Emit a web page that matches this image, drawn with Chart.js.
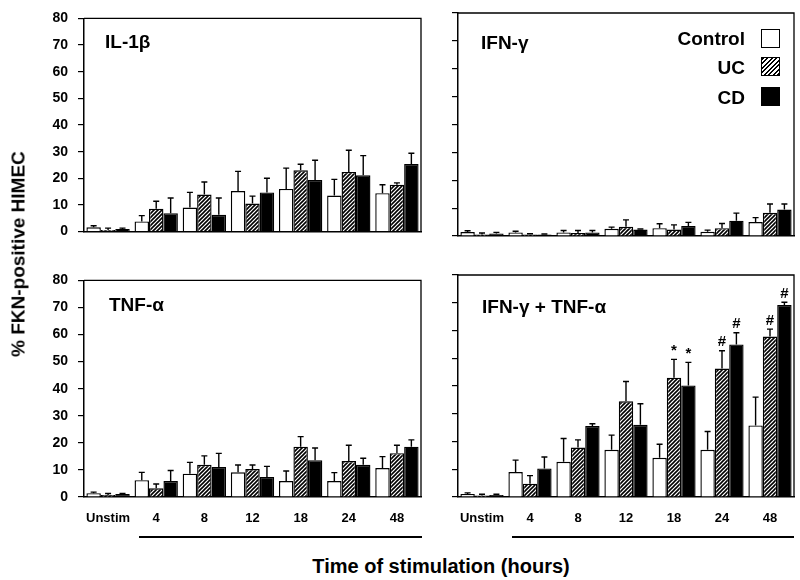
<!DOCTYPE html>
<html><head><meta charset="utf-8">
<script src="https://cdn.jsdelivr.net/npm/chart.js@4"></script>
<style>
html,body{margin:0;padding:0;background:#fff;}
#wrap{position:relative;width:800px;height:580px;overflow:hidden;font-family:Arial,"Liberation Sans",sans-serif;font-weight:bold;color:#000;}
canvas{position:absolute;}
.t{position:absolute;white-space:nowrap;line-height:1;}
.ttl{font-size:19px;}
.box{position:absolute;width:19px;height:19px;box-sizing:border-box;border:1.5px solid #000;}
.hl{position:absolute;height:1.5px;background:#000;}
</style></head>
<body><div id="wrap">
<canvas id="c0" width="430" height="250" style="left:0;top:0;width:430px;height:250px"></canvas>
<canvas id="c1" width="426" height="250" style="left:374px;top:0;width:426px;height:250px"></canvas>
<canvas id="c2" width="430" height="280" style="left:0;top:262px;width:430px;height:280px"></canvas>
<canvas id="c3" width="426" height="280" style="left:374px;top:262px;width:426px;height:280px"></canvas>

<div class="t ttl" style="left:105px;top:32px">IL-1β</div>
<div class="t ttl" style="left:481px;top:33px">IFN-γ</div>
<div class="t ttl" style="left:109px;top:295px">TNF-α</div>
<div class="t ttl" style="left:482px;top:297px">IFN-γ + TNF-α</div>

<div class="t ttl" style="right:55px;top:29px">Control</div>
<div class="t ttl" style="right:55px;top:58px">UC</div>
<div class="t ttl" style="right:55px;top:88px">CD</div>
<div class="box" style="left:761px;top:29px;background:#fff"></div>
<div class="box" style="left:761px;top:57px;background:repeating-linear-gradient(135deg,#000 0 1.6px,#fff 1.6px 3.2px)"></div>
<div class="box" style="left:761px;top:87px;background:#000"></div>

<div class="hl" style="left:139px;top:536px;width:283px"></div>
<div class="hl" style="left:512px;top:536px;width:282px"></div>

<div class="t" style="left:18px;top:254px;font-size:19px;transform:translate(-50%,-50%) rotate(-90deg)">% FKN-positive HIMEC</div>
<div class="t" style="left:441px;top:566px;font-size:20px;transform:translate(-50%,-50%)">Time of stimulation (hours)</div>
</div>
<script>
const categories = ['Unstim','4','8','12','18','24','48'];
const seriesNames = ['Control','UC','CD'];
const yTicksMin = 0, yTicksMax = 80, yTickStep = 10;

// IL-1beta
const il1bControl = [1.6, 3.8, 9.0, 15.2, 16.0, 13.5, 14.4];
const il1bControlSD = [0.6, 2.2, 5.7, 7.4, 7.8, 6.1, 3.2];
const il1bUC = [0.6, 8.6, 13.9, 10.5, 23.0, 22.4, 17.6];
const il1bUCSD = [0.7, 2.8, 4.7, 2.8, 2.3, 8.1, 0.7];
const il1bCD = [1.0, 6.9, 6.3, 14.7, 19.4, 21.1, 25.4];
const il1bCDSD = [0.3, 5.7, 6.3, 5.3, 7.4, 7.4, 4.0];

// IFN-gamma
const ifngControl = [1.4, 1.3, 1.3, 2.6, 2.8, 1.5, 5.0];
const ifngControlSD = [0.5, 0.4, 0.7, 0.6, 1.6, 0.6, 1.6];
const ifngUC = [0.5, 0.5, 1.1, 3.3, 2.3, 2.8, 8.3];
const ifngUCSD = [0.6, 0.3, 0.9, 2.5, 1.7, 1.7, 3.2];
const ifngCD = [0.9, 0.5, 1.3, 2.3, 3.6, 5.5, 9.5];
const ifngCDSD = [0.4, 0.2, 0.7, 0.2, 1.3, 2.7, 2.0];

// TNF-alpha
const tnfaControl = [1.4, 6.2, 8.6, 9.1, 5.9, 5.9, 10.7];
const tnfaControlSD = [0.4, 2.9, 4.2, 2.7, 3.7, 3.1, 4.2];
const tnfaUC = [0.7, 3.2, 11.9, 10.3, 18.6, 13.3, 16.2];
const tnfaUCSD = [0.6, 1.6, 3.3, 1.5, 3.7, 5.8, 2.9];
const tnfaCD = [1.1, 5.9, 11.1, 7.4, 13.6, 11.9, 18.6];
const tnfaCDSD = [0.2, 3.9, 5.0, 3.9, 4.5, 2.4, 2.5];

// IFN-gamma + TNF-alpha
const bothControl = [1.1, 9.0, 12.7, 17.0, 14.1, 17.0, 25.8];
const bothControlSD = [0.4, 4.3, 8.4, 5.3, 4.9, 6.6, 10.2];
const bothUC = [0.5, 4.8, 17.8, 34.5, 43.0, 46.3, 57.8];
const bothUCSD = [0.5, 2.9, 2.8, 7.1, 6.6, 6.4, 2.7];
const bothCD = [0.7, 10.3, 25.6, 26.0, 40.2, 55.0, 69.2];
const bothCDSD = [0.3, 4.1, 0.8, 7.6, 8.3, 4.2, 1.0];
const bothControlMarks = ['', '', '', '', '', '', ''];
const bothUCMarks = ['', '', '', '', '*', '#', '#'];
const bothCDMarks = ['', '', '', '', '*', '#', '#'];
const noMarks = ['', '', '', '', '', '', ''];

const FONT = 'Arial, "Liberation Sans", sans-serif';

function hatch(){
  const c = document.createElement('canvas');
  c.width = 4; c.height = 4;
  const g = c.getContext('2d');
  g.fillStyle = '#fff'; g.fillRect(0,0,4,4);
  g.strokeStyle = '#000'; g.lineWidth = 1.6;
  g.beginPath();
  g.moveTo(0,4); g.lineTo(4,0);
  g.moveTo(-1,1); g.lineTo(1,-1);
  g.moveTo(3,5); g.lineTo(5,3);
  g.stroke();
  return document.createElement('canvas').getContext('2d').createPattern(c,'repeat');
}
const fills = ['#ffffff', hatch(), '#000000'];

const errPlugin = {
  id: 'errbars',
  afterDatasetsDraw(chart){
    const ctx = chart.ctx, ys = chart.scales.y, ca = chart.chartArea;
    ctx.save();
    ctx.strokeStyle = '#000'; ctx.lineWidth = 1.4;
    chart.data.datasets.forEach((ds,i)=>{
      const meta = chart.getDatasetMeta(i);
      meta.data.forEach((bar,j)=>{
        const top = ys.getPixelForValue(ds.data[j] + ds.sd[j]);
        const x = bar.x;
        ctx.beginPath();
        ctx.moveTo(x, bar.y); ctx.lineTo(x, top);
        ctx.moveTo(x-3, top); ctx.lineTo(x+3, top);
        ctx.stroke();
        if (ds.marks[j]) {
          ctx.fillStyle = '#000';
          ctx.font = 'bold 15px ' + FONT;
          ctx.textAlign = 'center'; ctx.textBaseline = 'bottom';
          ctx.fillText(ds.marks[j], x, top - 1);
        }
      });
    });
    ctx.lineWidth = 1.3;
    ctx.beginPath();
    ctx.moveTo(ca.left, ca.top); ctx.lineTo(ca.right, ca.top); ctx.lineTo(ca.right, ca.bottom);
    ctx.stroke();
    ctx.restore();
  }
};

const panels = [
  {id:'c0', vals:[il1bControl, il1bUC, il1bCD], sds:[il1bControlSD, il1bUCSD, il1bCDSD], marks:[noMarks,noMarks,noMarks], showY:true, showX:false, padR:9, xH:14},
  {id:'c1', vals:[ifngControl, ifngUC, ifngCD], sds:[ifngControlSD, ifngUCSD, ifngCDSD], marks:[noMarks,noMarks,noMarks], showY:false, showX:false, padR:6, xH:14},
  {id:'c2', vals:[tnfaControl, tnfaUC, tnfaCD], sds:[tnfaControlSD, tnfaUCSD, tnfaCDSD], marks:[noMarks,noMarks,noMarks], showY:true, showX:true, padR:9, xH:45},
  {id:'c3', vals:[bothControl, bothUC, bothCD], sds:[bothControlSD, bothUCSD, bothCDSD], marks:[bothControlMarks,bothUCMarks,bothCDMarks], showY:false, showX:true, padR:6, xH:45}
];

panels.forEach(p=>{
  new Chart(document.getElementById(p.id), {
    type: 'bar',
    data: {
      labels: categories,
      datasets: seriesNames.map((n,i)=>({
        label: n, data: p.vals[i], sd: p.sds[i], marks: p.marks[i],
        backgroundColor: fills[i], borderColor: '#000', borderWidth: 1.4,
        categoryPercentage: 0.9, barPercentage: 1.0
      }))
    },
    options: {
      responsive: false, animation: false, devicePixelRatio: 1,
      layout: {padding: {left:0, top:13, right:p.padR, bottom:0}},
      plugins: {legend:{display:false}, tooltip:{enabled:false}},
      scales: {
        x: {
          grid: {display:false, drawTicks:false},
          border: {display:true, color:'#000', width:1.5},
          ticks: {display:p.showX, color:'#000', font:{family:FONT, size:13, weight:'bold'}, padding:14, maxRotation:0, autoSkip:false},
          afterFit: s=>{ s.height = p.xH; }
        },
        y: {
          min: yTicksMin, max: yTicksMax,
          ticks: {stepSize:yTickStep, display:p.showY, color:'#000', font:{family:FONT, size:14, weight:'bold'}, padding:10},
          grid: {display:true, drawOnChartArea:false, drawTicks:true, tickLength:6, color:'#000', lineWidth:1.2},
          border: {display:true, color:'#000', width:1.5},
          afterFit: s=>{ s.width = 84; }
        }
      }
    },
    plugins: [errPlugin]
  });
});
</script>
</body></html>
